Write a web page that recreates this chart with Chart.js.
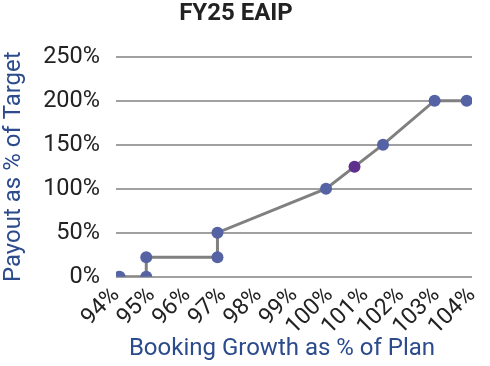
<!DOCTYPE html>
<html>
<head>
<meta charset="utf-8">
<script src="https://cdn.jsdelivr.net/npm/chart.js@4.4.1/dist/chart.umd.min.js"></script>
<style>
  html, body { margin: 0; padding: 0; background: #fff; }
  #wrap { width: 490px; height: 366px; }
</style>
</head>
<body>
<div id="wrap"><canvas id="eaip-chart"></canvas></div>
<script>
// payout curve points (booking growth % -> payout %)
const bookingGrowth = [94.1, 94.85, 94.85, 96.85, 96.85, 99.9, 101.5, 102.95, 103.85];
const payoutPct = [0, 0, 22, 22, 50, 100, 150, 200, 200];

// current position marker
const currentGrowth = [100.7];
const currentPayout = [125];

const xTickValues = [94, 95, 96, 97, 98, 99, 100, 101, 102, 103, 104];
const yTickValues = [0, 50, 100, 150, 200, 250];

const xAxisTitle = 'Booking Growth as % of Plan';

const FONT = 'Roboto, "Noto Sans", sans-serif';

const curve = bookingGrowth.map((x, i) => ({ x: x, y: payoutPct[i] }));
const current = currentGrowth.map((x, i) => ({ x: x, y: currentPayout[i] }));

// x axis title is drawn a bit left of the plot centre in the original
const xTitlePlugin = {
    id: 'xTitle',
    afterDraw(chart) {
        const ctx = chart.ctx;
        ctx.save();
        ctx.font = '24px ' + FONT;
        ctx.fillStyle = '#2c4b8c';
        ctx.textAlign = 'center';
        ctx.textBaseline = 'middle';
        ctx.fillText(xAxisTitle, 282, 349);
        ctx.restore();
    }
};

new Chart(document.getElementById('eaip-chart'), {
    type: 'scatter',
    data: {
        datasets: [
            {
                label: 'Current',
                data: current,
                showLine: false,
                pointRadius: 6,
                pointHoverRadius: 6,
                pointBackgroundColor: '#5e2f8c',
                pointBorderWidth: 0,
                order: 0
            },
            {
                label: 'Payout',
                data: curve,
                showLine: true,
                borderColor: '#808080',
                borderWidth: 3,
                pointRadius: 6,
                pointHoverRadius: 6,
                pointBackgroundColor: '#5562a3',
                pointBorderWidth: 0,
                order: 1
            }
        ]
    },
    plugins: [xTitlePlugin],
    options: {
        responsive: true,
        maintainAspectRatio: false,
        animation: false,
        layout: { padding: { left: 0, right: 18, top: 0, bottom: 0 } },
        plugins: {
            legend: { display: false },
            tooltip: { enabled: false },
            title: {
                display: true,
                text: 'FY25 EAIP',
                color: '#222222',
                font: { family: FONT, size: 24, weight: 'bold', lineHeight: 1.2 },
                padding: { top: 0, bottom: 27.9 }
            }
        },
        scales: {
            x: {
                type: 'linear',
                min: 94,
                max: 104,
                afterBuildTicks: (scale) => { scale.ticks = xTickValues.map(v => ({ value: v })); },
                afterFit: (scale) => {
                    scale.height = 89.3;
                    scale.paddingLeft = 0;
                    scale.paddingRight = 0;
                },
                grid: { display: false, drawTicks: false },
                border: { display: false },
                ticks: {
                    color: '#222222',
                    font: { family: FONT, size: 23 },
                    autoSkip: false,
                    maxRotation: 45,
                    minRotation: 45,
                    padding: 5,
                    callback: (v) => v + '%'
                },
                title: { display: false }
            },
            y: {
                min: 0,
                max: 250,
                afterBuildTicks: (scale) => { scale.ticks = yTickValues.map(v => ({ value: v })); },
                afterFit: (scale) => { scale.width = 116; },
                grid: { color: '#a0a0a0', lineWidth: 2, drawTicks: false },
                border: { display: false },
                ticks: {
                    color: '#222222',
                    font: { family: FONT, size: 23.5 },
                    padding: 16,
                    callback: (v) => v + '%'
                },
                title: {
                    display: true,
                    text: 'Payout as % of Target',
                    color: '#2c4b8c',
                    font: { family: FONT, size: 24, lineHeight: 1.2 },
                    padding: { top: 0, bottom: 0 }
                }
            }
        }
    }
});
</script>
</body>
</html>
